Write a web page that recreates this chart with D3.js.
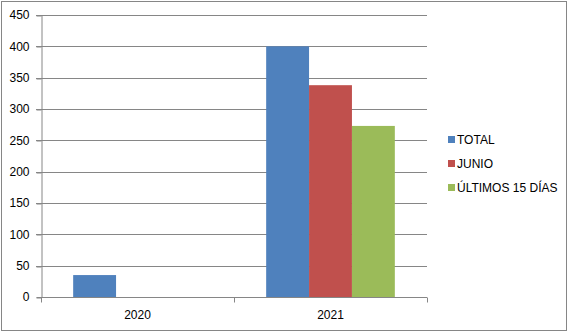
<!DOCTYPE html>
<html>
<head>
<meta charset="utf-8">
<script src="https://cdn.jsdelivr.net/npm/d3@7"></script>
<style>
  body { margin: 0; background: #fff; }
  text { font-family: "Liberation Sans", Arial, sans-serif; font-size: 12px; fill: #000; }
</style>
</head>
<body>
<div id="chart"></div>
<script>
const years = ["2020", "2021"];
const series = ["TOTAL", "JUNIO", "ÚLTIMOS 15 DÍAS"];
const colors = ["#4F81BD", "#C0504D", "#9BBB59"];
const total = [35, 400];
const junio = [0, 338];
const ultimos = [0, 273];
const yTicks = [0, 50, 100, 150, 200, 250, 300, 350, 400, 450];

const values = [total, junio, ultimos];

const W = 568, H = 332;
const plot = {left: 41, right: 427, top: 15, bottom: 297};

const svg = d3.select("#chart").append("svg")
  .attr("width", W).attr("height", H);

// outer frame
svg.append("rect")
  .attr("x", 1.5).attr("y", 1.5)
  .attr("width", W - 3).attr("height", H - 3)
  .attr("fill", "#fff").attr("stroke", "#868686");

const x = d3.scaleBand().domain(years).range([plot.left, plot.right]);
const y = d3.scaleLinear().domain([0, 450]).range([plot.bottom, plot.top]);

// group layout: gap width 150%
const barW = x.bandwidth() / 4.5;
const xs = d3.scaleBand().domain(series)
  .range([barW * 0.75, barW * 3.75]);

// gridlines
svg.append("g")
  .selectAll("line")
  .data(yTicks.filter(d => d > 0))
  .join("line")
    .attr("x1", plot.left - 5).attr("x2", plot.right)
    .attr("y1", d => Math.round(y(d)) + 0.5)
    .attr("y2", d => Math.round(y(d)) + 0.5)
    .attr("stroke", "#868686");

// bars
series.forEach((s, i) => {
  svg.append("g")
    .selectAll("rect")
    .data(years.map((yr, j) => ({yr, v: values[i][j]})).filter(d => d.v > 0))
    .join("rect")
      .attr("x", d => x(d.yr) + xs(s))
      .attr("width", xs.bandwidth())
      .attr("y", d => y(d.v))
      .attr("height", d => y(0) - y(d.v))
      .attr("fill", colors[i]);
});

// y axis
const yAxis = svg.append("g")
  .attr("transform", `translate(${plot.left + 0.5},0)`)
  .call(d3.axisLeft(y).tickValues(yTicks).tickSize(5).tickPadding(7).tickFormat(d3.format("d")));
yAxis.selectAll("line").attr("stroke", "#868686")
  .attr("transform", d => `translate(0,${Math.round(y(d)) + 0.5 - y(d)})`);
yAxis.select(".domain").attr("stroke", "#868686");
yAxis.selectAll("text").style("font-family", "Liberation Sans, Arial, sans-serif").style("font-size", "12px");

// x axis
const xAxisG = svg.append("g")
  .attr("transform", `translate(0,${plot.bottom + 0.5})`);
xAxisG.append("line")
  .attr("x1", plot.left).attr("x2", plot.right)
  .attr("stroke", "#868686");
xAxisG.selectAll("line.tk")
  .data([plot.left, x("2021"), plot.right])
  .join("line").attr("class", "tk")
    .attr("x1", d => Math.round(d) + 0.5).attr("x2", d => Math.round(d) + 0.5)
    .attr("y1", 0).attr("y2", 5)
    .attr("stroke", "#868686");
xAxisG.selectAll("text")
  .data(years)
  .join("text")
    .attr("x", d => x(d) + x.bandwidth() / 2)
    .attr("y", 21)
    .attr("text-anchor", "middle")
    .text(d => d);

// legend
const legend = svg.append("g").attr("transform", "translate(448,140)");
series.forEach((s, i) => {
  const g = legend.append("g").attr("transform", `translate(0,${i * 24})`);
  g.append("rect").attr("x", 0).attr("y", -4).attr("width", 7).attr("height", 7).attr("fill", colors[i]);
  g.append("text").attr("x", 9).attr("y", 4).text(s);
});
</script>
</body>
</html>
